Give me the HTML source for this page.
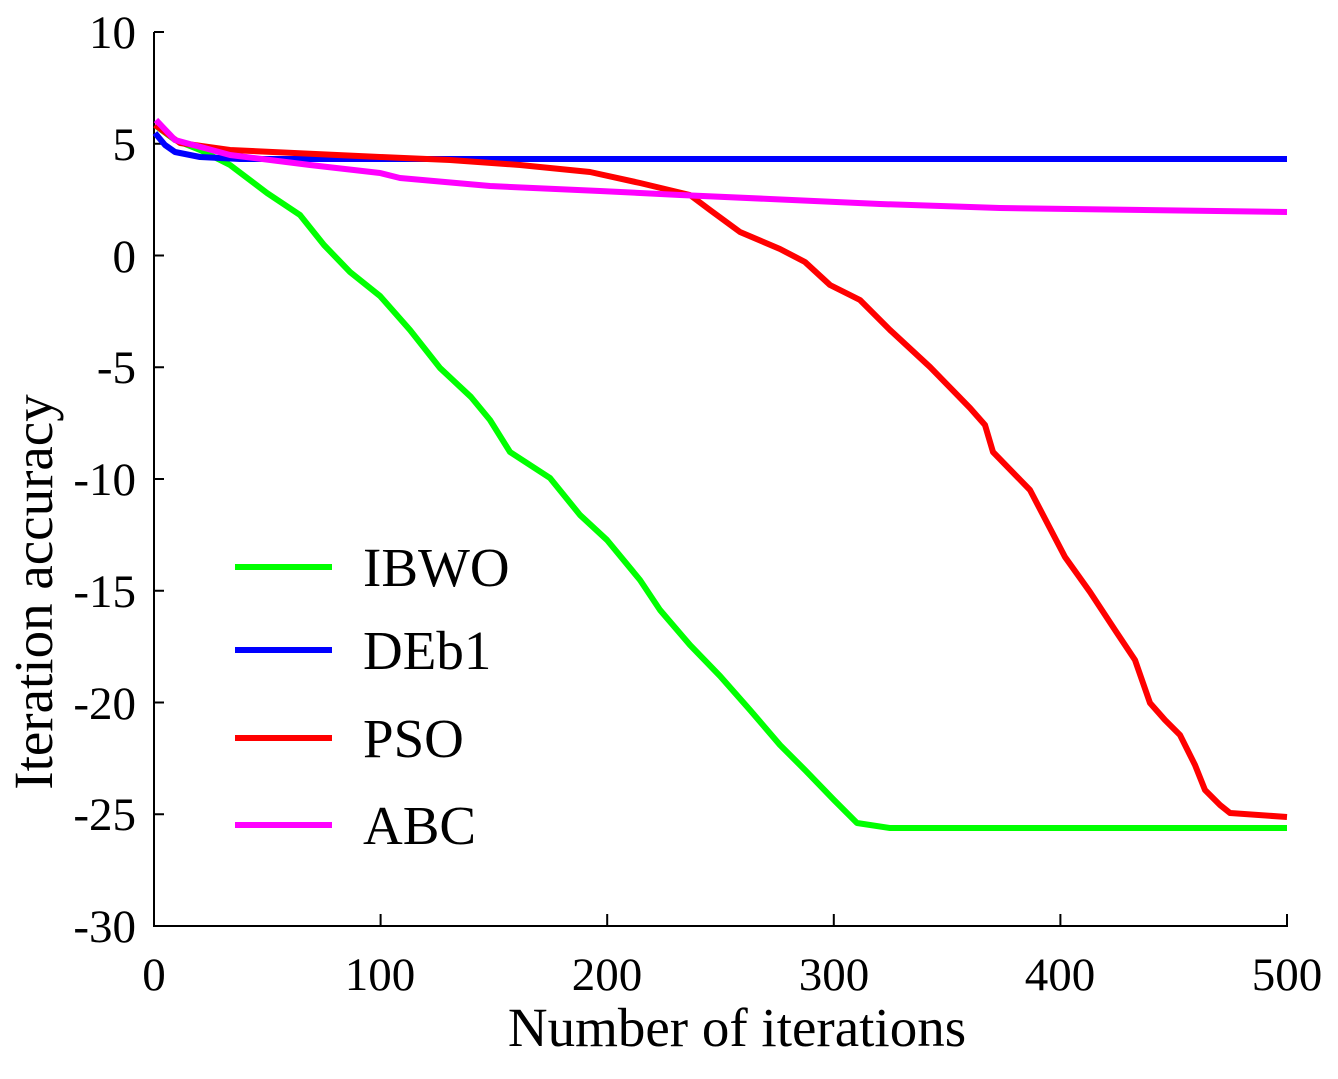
<!DOCTYPE html>
<html><head><meta charset="utf-8"><style>html,body{margin:0;padding:0;background:#fff}</style></head>
<body>
<svg width="1338" height="1074" viewBox="0 0 1338 1074" xmlns="http://www.w3.org/2000/svg" font-family="Liberation Serif, serif">
<rect width="1338" height="1074" fill="#fff"/>
<g stroke="#000" stroke-width="2" fill="none">
<path d="M154,32 V926 H1287 V914"/>
<path d="M154,32 H164 M154,143.75 H164 M154,255.5 H164 M154,367.25 H164 M154,479 H164 M154,590.75 H164 M154,702.5 H164 M154,814.25 H164"/>
<path d="M380.6,926 V914 M607.2,926 V914 M833.8,926 V914 M1060.4,926 V914"/>
</g>
<g font-size="47" text-anchor="end" fill="#000">
<text x="136" y="48">10</text><text x="136" y="160">5</text><text x="136" y="272">0</text>
<text x="136" y="383">-5</text><text x="136" y="495">-10</text><text x="136" y="607">-15</text>
<text x="136" y="719">-20</text><text x="136" y="830">-25</text><text x="136" y="942">-30</text>
</g>
<g font-size="47" text-anchor="middle" fill="#000">
<text x="154" y="990">0</text><text x="380" y="990">100</text><text x="607" y="990">200</text>
<text x="834" y="990">300</text><text x="1060" y="990">400</text><text x="1287" y="990">500</text>
</g>
<text x="737" y="1046" font-size="55" text-anchor="middle">Number of iterations</text>
<text transform="translate(52,592) rotate(-90)" font-size="55" text-anchor="middle">Iteration accuracy</text>
<g fill="none" stroke-width="6" stroke-linejoin="round">
<polyline stroke="#00ff00" points="156,126 175,140 200,150 230,165 267,193 300,215 324,245 350,272 380,296 410,330 440,368 471,397 490,420 510,452 550,478 580,515 607,540 640,580 660,610 690,645 720,676 750,710 780,745 805,770 834,800 857,823 890,828 1287,828"/>
<polyline stroke="#0000ff" points="155,133 165,145 175,152 200,157 240,159 1287,159"/>
<polyline stroke="#ff0000" points="155,125 180,143 230,150 380,157 450,160 520,165 590,172 640,183 690,195 710,210 740,232 780,249 805,262 830,285 860,300 890,330 930,367 970,408 985,425 993,452 1030,490 1065,557 1090,592 1115,630 1135,660 1150,703 1165,720 1180,735 1195,765 1205,790 1220,805 1230,813 1287,817"/>
<polyline stroke="#ff00ff" points="156,120 175,140 230,155 310,165 380,173 400,178 490,186 600,191 680,195 770,199 880,204 1000,208 1287,212"/>
</g>
<g stroke-width="6">
<line x1="235" y1="567" x2="332" y2="567" stroke="#00ff00"/>
<line x1="235" y1="650" x2="332" y2="650" stroke="#0000ff"/>
<line x1="235" y1="738" x2="332" y2="738" stroke="#ff0000"/>
<line x1="235" y1="825" x2="332" y2="825" stroke="#ff00ff"/>
</g>
<g font-size="55" fill="#000">
<text x="363" y="586">IBWO</text><text x="363" y="669">DEb1</text>
<text x="363" y="757">PSO</text><text x="363" y="844">ABC</text>
</g>
</svg>
</body></html>
